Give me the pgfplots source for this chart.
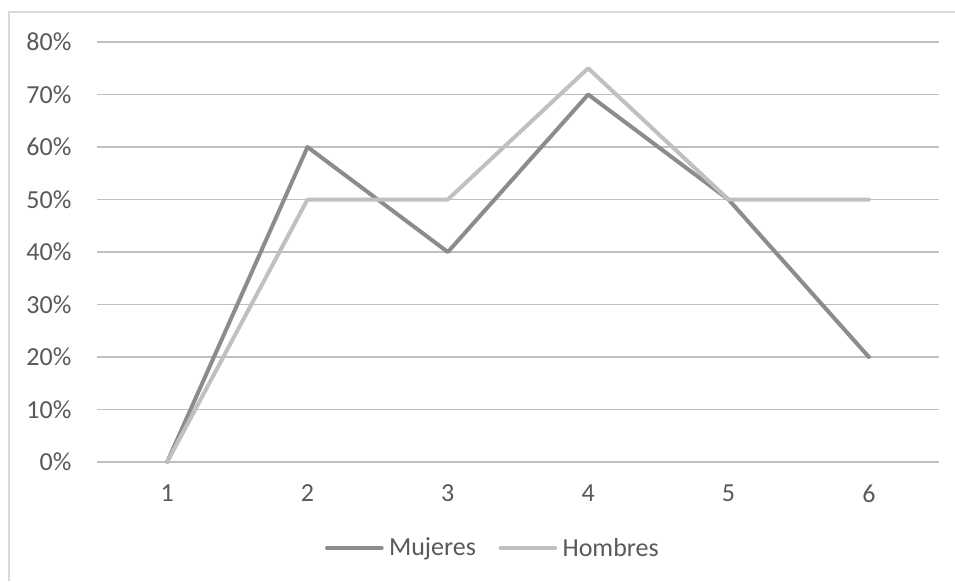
\documentclass[border=0pt]{standalone}
\usepackage{pgfplots}
\pgfplotsset{compat=1.18}
\usepackage{fontspec}
\setmainfont{Carlito}
\definecolor{mujer}{HTML}{8C8C8C}
\definecolor{hombre}{HTML}{C0C0C0}
\definecolor{txt}{HTML}{595959}
\definecolor{grid}{HTML}{D9D9D9}
\begin{document}
\begin{tikzpicture}
\path[use as bounding box] (0,0) rectangle (716.25pt,435.75pt);
\draw[grid, line width=0.9pt] (6.75pt,0pt) -- (6.75pt,426.75pt) -- (716.25pt,426.75pt);
\begin{axis}[
  at={(72.75pt,89.25pt)}, anchor=south west,
  scale only axis,
  width=631.5pt, height=315pt,
  xmin=0.5, xmax=6.5, ymin=0, ymax=80,
  axis line style={draw=none},
  clip=false,
  xtick={1,2,3,4,5,6},
  xticklabels={1,2,3,4,5,6},
  ytick={0,10,20,30,40,50,60,70,80},
  yticklabels={0\%,10\%,20\%,30\%,40\%,50\%,60\%,70\%,80\%},
  xmajorgrids=false,
  ymajorgrids=true,
  major grid style={grid, line width=0.9pt},
  xtick style={draw=none},
  ytick style={draw=none},
  major tick length=0pt,
  tick label style={font=\fontsize{19.5}{23}\selectfont, text=txt, inner sep=0pt},
  yticklabel style={anchor=east, xshift=-19pt},
  xticklabel style={anchor=north, yshift=-17pt},
  legend columns=2,
  legend style={draw=none, fill=none, at={(0.469,-0.2048)}, anchor=center,
    font=\fontsize{19.5}{23}\selectfont, text=txt,
    nodes={inner sep=0pt},
    /tikz/every even column/.append style={column sep=17pt},
    /tikz/every odd column/.append style={column sep=4pt}},
  legend image code/.code={\draw[#1, line width=3pt, line cap=round] (0pt,0pt) -- (41pt,0pt);},
  every axis plot/.append style={line width=3pt, line cap=round, line join=round},
]
\addplot[mujer] coordinates {(1,0) (2,60) (3,40) (4,70) (5,50) (6,20)};
\addlegendentry{Mujeres}
\addplot[hombre] coordinates {(1,0) (2,50) (3,50) (4,75) (5,50) (6,50)};
\addlegendentry{Hombres}
\end{axis}
\end{tikzpicture}
\end{document}
